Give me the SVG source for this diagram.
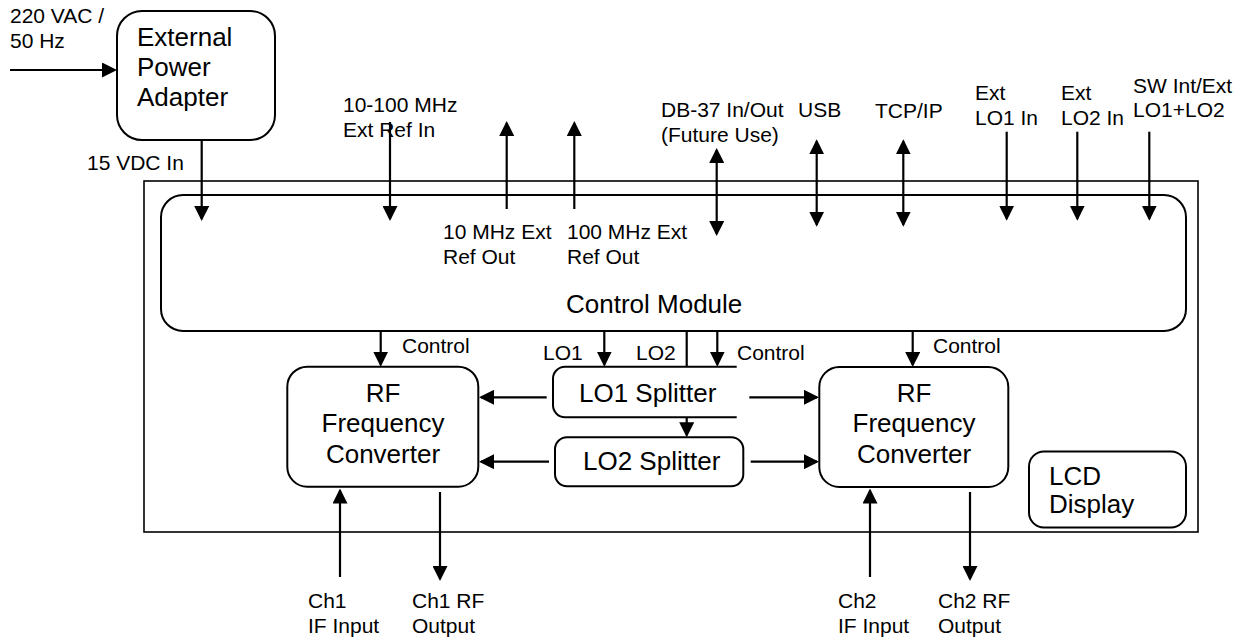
<svg xmlns="http://www.w3.org/2000/svg" width="1245" height="637" viewBox="0 0 1245 637">
<style>
text{font-family:"Liberation Sans",Arial,sans-serif;fill:#000}
.s{font-size:21px}
.b{font-size:26px}
.m{text-anchor:middle}
.box{fill:#fff;stroke:#000;stroke-width:2}
.c line{stroke:#000;stroke-width:2.2}
.a{marker-end:url(#ah)}
.d{marker-start:url(#ah);marker-end:url(#ah)}
</style>
<defs>
<marker id="ah" viewBox="0 0 15 15" markerWidth="15" markerHeight="15" refX="13" refY="7.5" orient="auto-start-reverse" markerUnits="userSpaceOnUse"><path d="M0,0 L15,7.5 L0,15 z" fill="#000"/></marker>
</defs>
<rect width="1245" height="637" fill="#fff"/>
<g id="chassis"><rect x="144" y="181" width="1054" height="351" fill="none" stroke="#000" stroke-width="1.6"/></g>
<g id="power-adapter"><rect class="box" x="117" y="11" width="158" height="129" rx="25"/>
<text class="b" x="137" y="46">External</text><text class="b" x="137" y="76">Power</text><text class="b" x="137" y="106">Adapter</text></g>
<g id="control-module"><rect class="box" x="161" y="195" width="1025" height="136" rx="22"/>
<text class="b" x="566" y="313">Control Module</text></g>
<g id="rf-converter-1"><rect class="box" x="287.3" y="366.7" width="191" height="120" rx="20"/>
<text class="b m" x="383" y="402">RF</text><text class="b m" x="383" y="432">Frequency</text><text class="b m" x="383" y="463">Converter</text></g>
<g id="rf-converter-2"><rect class="box" x="819.3" y="367" width="189" height="120" rx="20"/>
<text class="b m" x="914" y="402">RF</text><text class="b m" x="914" y="432">Frequency</text><text class="b m" x="914" y="463">Converter</text></g>
<g id="lo1-splitter"><path class="box" d="M736.7,366.7 H565 A12,12 0 0 0 553,378.7 V405.3 A12,12 0 0 0 565,417.3 H736.7"/>
<text class="b" x="579" y="402">LO1 Splitter</text></g>
<g id="lo2-splitter"><rect class="box" x="555" y="437.3" width="188.3" height="49" rx="12"/>
<text class="b" x="583" y="470">LO2 Splitter</text></g>
<g id="lcd-display"><rect class="box" x="1029" y="451.5" width="157" height="76" rx="15"/>
<text class="b" x="1049" y="485">LCD</text><text class="b" x="1049" y="513">Display</text></g>
<g id="labels">
<text class="s" x="10" y="23">220 VAC /</text><text class="s" x="10" y="48">50 Hz</text>
<text class="s" x="87" y="170">15 VDC In</text>
<text class="s" x="343" y="112">10-100 MHz</text><text class="s" x="343" y="137">Ext Ref In</text>
<text class="s" x="443" y="239">10 MHz Ext</text><text class="s" x="443" y="264">Ref Out</text>
<text class="s" x="567" y="239">100 MHz Ext</text><text class="s" x="567" y="264">Ref Out</text>
<text class="s" x="661" y="117">DB-37 In/Out</text><text class="s" x="661" y="142">(Future Use)</text>
<text class="s" x="798" y="117">USB</text>
<text class="s" x="875" y="118">TCP/IP</text>
<text class="s" x="975" y="100">Ext</text><text class="s" x="975" y="125">LO1 In</text>
<text class="s" x="1061" y="100">Ext</text><text class="s" x="1061" y="125">LO2 In</text>
<text class="s" x="1133" y="93">SW Int/Ext</text><text class="s" x="1133" y="117">LO1+LO2</text>
<text class="s" x="402" y="353">Control</text>
<text class="s" x="543" y="360">LO1</text><text class="s" x="636" y="360">LO2</text>
<text class="s" x="737" y="360">Control</text>
<text class="s" x="933" y="353">Control</text>
<text class="s" x="308" y="608">Ch1</text><text class="s" x="308" y="633">IF Input</text>
<text class="s" x="412" y="608">Ch1 RF</text><text class="s" x="412" y="633">Output</text>
<text class="s" x="838" y="608">Ch2</text><text class="s" x="838" y="633">IF Input</text>
<text class="s" x="938" y="608">Ch2 RF</text><text class="s" x="938" y="633">Output</text>
</g>
<g id="connectors" class="c">
<line class="a" x1="10" y1="70" x2="115" y2="70"/>
<line class="a" x1="201.7" y1="140" x2="201.7" y2="219"/>
<line class="a" x1="390" y1="122" x2="390" y2="219"/>
<line class="a" x1="506.7" y1="209" x2="506.7" y2="123"/>
<line class="a" x1="574.3" y1="209" x2="574.3" y2="123"/>
<line class="d" x1="716.7" y1="150" x2="716.7" y2="234"/>
<line class="d" x1="816.7" y1="141.3" x2="816.7" y2="224.7"/>
<line class="d" x1="903.3" y1="141.3" x2="903.3" y2="224.7"/>
<line class="a" x1="1006.7" y1="131.7" x2="1006.7" y2="218.7"/>
<line class="a" x1="1077.3" y1="131.7" x2="1077.3" y2="218.7"/>
<line class="a" x1="1149.3" y1="131.7" x2="1149.3" y2="218.7"/>
<line class="a" x1="380.7" y1="331" x2="380.7" y2="364.7"/>
<line class="a" x1="604.3" y1="331" x2="604.3" y2="364.7"/>
<line x1="686.7" y1="331" x2="686.7" y2="367"/>
<line class="a" x1="686.7" y1="417.3" x2="686.7" y2="435.3"/>
<line class="a" x1="717.3" y1="331" x2="717.3" y2="364.7"/>
<line class="a" x1="912.7" y1="331" x2="912.7" y2="365"/>
<line class="a" x1="546.7" y1="397.3" x2="481" y2="397.3"/>
<line class="a" x1="749.3" y1="397.3" x2="817" y2="397.3"/>
<line class="a" x1="549" y1="461.7" x2="481" y2="461.7"/>
<line class="a" x1="750.7" y1="461.7" x2="817" y2="461.7"/>
<line class="a" x1="340" y1="577" x2="340" y2="490.5"/>
<line class="a" x1="440" y1="492" x2="440" y2="579"/>
<line class="a" x1="870" y1="577" x2="870" y2="490.5"/>
<line class="a" x1="970" y1="492" x2="970" y2="579"/>
</g>
</svg>
